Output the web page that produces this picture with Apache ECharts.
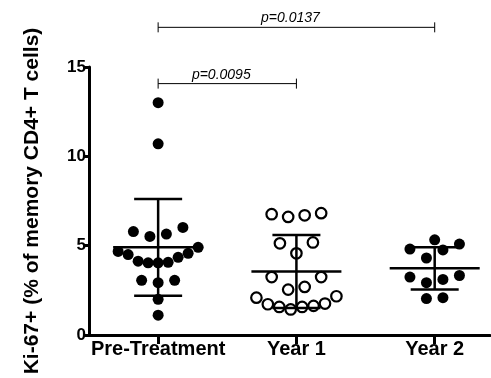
<!DOCTYPE html>
<html>
<head>
<meta charset="utf-8">
<script src="https://cdn.jsdelivr.net/npm/echarts@6/dist/echarts.min.js"></script>
<style>
  html, body { margin: 0; padding: 0; background: #fff; }
  #chart { width: 491px; height: 378px; }
</style>
</head>
<body>
<div id="chart"></div>
<script>
// groups on the x axis
const categories = ['Pre-Treatment', 'Year 1', 'Year 2']
// Ki-67+ values per subject
const preTreatment = [13.0, 10.7, 5.79, 5.52, 5.65, 6.02, 4.91, 4.68, 4.5, 4.57, 4.35, 4.13, 4.04, 4.04, 4.07, 3.06, 2.93, 3.06, 2.0, 1.11]
const year1 = [6.82, 6.7, 6.61, 6.76, 5.18, 5.13, 4.57, 3.24, 3.24, 2.69, 2.54, 2.09, 2.17, 1.72, 1.57, 1.43, 1.57, 1.63, 1.76]
const year2 = [5.33, 4.81, 4.76, 5.09, 4.31, 3.24, 2.93, 3.11, 3.33, 2.04, 2.09]
// y axis ticks
const yTicks = [0, 5, 10, 15]
// significance brackets: [from group, to group, bracket height]
const compFrom = [1, 1]
const compTo = [2, 3]
const compLevel = [14.07, 17.22]
const compLabels = ['p=0.0095', 'p=0.0137']

const W = 491
const H = 378
const GRID = { left: 89, right: 1, top: 67, bottom: 43 }
const X_MIN = 0.5
const X_MAX = 3.4
const PX_PER_X = (W - GRID.left - GRID.right) / (X_MAX - X_MIN)
const FONT = 'Liberation Sans, Arial, Helvetica, sans-serif'

// prism-like scatter dot layout: close values share a row,
// lowest value in the middle, the rest fanned out left / right
function dotRows(values, center) {
  const BIN = 0.88
  const order = values.map((v, i) => i).sort((a, b) => values[a] - values[b])
  const rows = []
  order.forEach(i => {
    const row = rows[rows.length - 1]
    if (row && values[i] - values[row[0]] <= BIN) row.push(i)
    else rows.push([i])
  })
  const out = new Array(values.length)
  rows.forEach(row => {
    const n = row.length
    const step = n > 1 ? Math.min(16.5, 80 / (n - 1)) : 0
    // slot order: centre out, left first
    const slots = []
    if (n % 2) {
      slots.push(0)
      for (let k = 1; slots.length < n; k++) slots.push(-k, k)
    } else {
      for (let k = 0.5; slots.length < n; k++) slots.push(-k, k)
    }
    row.forEach((idx, j) => {
      out[idx] = [center + slots[j] * step / PX_PER_X, values[idx]]
    })
  })
  return out
}

function meanSd(values) {
  const m = values.reduce((a, b) => a + b, 0) / values.length
  const v = values.reduce((a, b) => a + (b - m) * (b - m), 0) / (values.length - 1)
  return [m, Math.sqrt(v)]
}

const groups = [preTreatment, year1, year2]
const statsData = groups.map((g, i) => [i + 1].concat(meanSd(g)))
const compData = compFrom.map((f, i) => [f, compTo[i], compLevel[i], i])

const chart = echarts.init(document.getElementById('chart'))

const dotSeries = groups.map((g, i) => ({
  type: 'scatter',
  data: dotRows(g, i + 1),
  symbol: 'circle',
  symbolSize: i === 1 ? 10.5 : 11,
  itemStyle: i === 1
    ? { color: '#fff', borderColor: '#000', borderWidth: 2.2, opacity: 1 }
    : { color: '#000', opacity: 1 },
  z: 2,
  silent: true
}))

chart.setOption({
  animation: false,
  grid: GRID,
  xAxis: {
    type: 'value',
    min: X_MIN,
    max: X_MAX,
    splitLine: { show: false },
    axisLine: { lineStyle: { color: '#000', width: 3 } },
    axisTick: { customValues: [1, 2, 3], length: 9, lineStyle: { color: '#000', width: 3 } },
    axisLabel: {
      customValues: [1, 2, 3],
      formatter: v => categories[Math.round(v) - 1] || '',
      color: '#000',
      fontWeight: 'bold',
      fontSize: 20,
      fontFamily: FONT,
      margin: 4
    }
  },
  yAxis: {
    type: 'value',
    min: yTicks[0],
    max: yTicks[yTicks.length - 1],
    interval: 5,
    splitLine: { show: false },
    axisLine: { show: true, lineStyle: { color: '#000', width: 3 } },
    axisTick: { show: true, length: 6, lineStyle: { color: '#000', width: 3 } },
    axisLabel: { color: '#000', fontWeight: 'bold', fontSize: 17, fontFamily: FONT, margin: 3 },
    name: 'Ki-67+ (% of memory CD4+ T cells)',
    nameLocation: 'middle',
    nameRotate: 90,
    nameGap: 46,
    nameTextStyle: { color: '#000', fontWeight: 'bold', fontSize: 21, fontFamily: FONT }
  },
  series: dotSeries.concat([
    {
      // mean line with SD whiskers
      type: 'custom',
      data: statsData,
      encode: { x: 0, y: 1 },
      z: 3,
      silent: true,
      renderItem: function(params, api) {
        const x = api.value(0)
        const m = api.value(1)
        const sd = api.value(2)
        const c = api.coord([x, m])
        const top = api.coord([x, m + sd])
        const bot = api.coord([x, m - sd])
        const st = { stroke: '#000', lineWidth: 2.5 }
        return {
          type: 'group',
          children: [
            { type: 'line', shape: { x1: c[0] - 45, y1: c[1], x2: c[0] + 45, y2: c[1] }, style: st },
            { type: 'line', shape: { x1: c[0], y1: top[1], x2: c[0], y2: bot[1] }, style: st },
            { type: 'line', shape: { x1: c[0] - 24, y1: top[1], x2: c[0] + 24, y2: top[1] }, style: st },
            { type: 'line', shape: { x1: c[0] - 24, y1: bot[1], x2: c[0] + 24, y2: bot[1] }, style: st }
          ]
        }
      }
    },
    {
      // significance brackets
      type: 'custom',
      data: compData,
      encode: { x: 0, y: 2 },
      clip: false,
      z: 3,
      silent: true,
      renderItem: function(params, api) {
        const a = api.coord([api.value(0), api.value(2)])
        const b = api.coord([api.value(1), api.value(2)])
        const st = { stroke: '#000', lineWidth: 1 }
        return {
          type: 'group',
          children: [
            { type: 'line', shape: { x1: a[0], y1: a[1], x2: b[0], y2: b[1] }, style: st },
            { type: 'line', shape: { x1: a[0], y1: a[1] - 5, x2: a[0], y2: a[1] + 5 }, style: st },
            { type: 'line', shape: { x1: b[0], y1: b[1] - 5, x2: b[0], y2: b[1] + 5 }, style: st },
            {
              type: 'text',
              style: {
                text: compLabels[api.value(3)],
                x: (a[0] + b[0]) / 2 - 6,
                y: a[1] - 2,
                align: 'center',
                verticalAlign: 'bottom',
                fontStyle: 'italic',
                fontSize: 14,
                fontFamily: FONT,
                fill: '#000'
              }
            }
          ]
        }
      }
    }
  ])
})
</script>
</body>
</html>
